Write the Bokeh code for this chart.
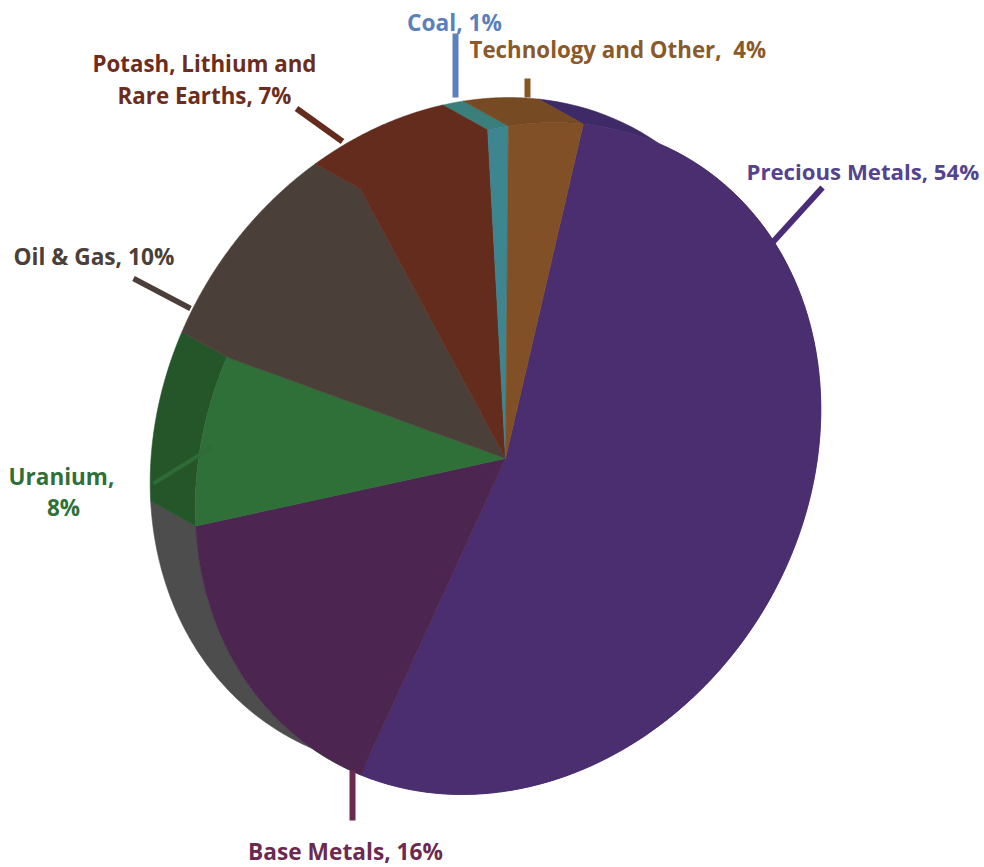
import numpy as np
from bokeh.plotting import figure
from bokeh.embed import file_html
from bokeh.resources import INLINE
from bokeh.core.properties import value

# ---- data (clockwise from the Precious Metals edge) ----
categories = ["Precious Metals", "Base Metals", "Uranium", "Oil & Gas",
              "Potash, Lithium and Rare Earths", "Coal", "Technology and Other"]
share_pct = [54, 16, 8, 10, 7, 1, 4]
# swept angle of every slice as it is actually drawn in the tilted picture
drawn_sweep_deg = [191.5, 53.1, 32.3, 41.7, 25.2, 3.6, 12.6]
face_colors = ["#4b2e70", "#4c2650", "#2f6f38", "#4b4039", "#642c1c", "#3d8690", "#815026"]
side_colors = ["#3d2a66", "#4d4d4d", "#24562a", "#4b4039", "#642c1c", "#3a7f7c", "#764a22"]

label_text = ["Coal, 1%", "Technology and Other,\u00a0 4%", "Potash, Lithium and", "Rare Earths, 7%",
              "Oil & Gas, 10%", "Uranium,", "8%", "Base Metals, 16%", "Precious Metals, 54%"]
label_color = ["#5a80bd", "#8a5a2b", "#6b2d20", "#6b2d20", "#4b4039",
               "#2f6f38", "#2f6f38", "#6b2a4f", "#54438f"]

# ---- layout ----
W, H = 984, 867
CX, CY = 505, 458
OFFX = 2.5
A, B, ROT = 350, 297, np.radians(58)
SHIFT = (-45, -25)
START = 76.9
FONT = "Open Sans"

label_x = [454, 469, 204, 204, 13, 61, 63, 345, 746]
label_y = [22, 49, 63, 95, 256, 476, 507, 851, 171]
label_align = ["center", "left", "center", "center", "left", "center", "center", "center", "left"]
label_size = ["22.7px", "22.3px", "22.3px", "22.3px", "22.7px", "22.5px", "22.5px", "22.7px", "22.2px"]

lead_x = [[455, 455], [527, 527], [296, 342], [133, 190], [153, 211], [352, 352], [772, 822]]
lead_y = [[33, 97], [78, 97], [108, 141], [278, 308], [483, 447], [770, 820], [242, 187]]
lead_c = ["#5a80bd", "#8a5526", "#642c1c", "#4b4039", "#2f6b36", "#6b2a4f", "#4a2d78"]
lead_w = [6, 6, 6, 5.5, 4, 6, 6]


def arc(a0, a1, n=120):
    # ray from the apex to an ellipse whose centre lies OFFX to the right of it
    t = np.radians(np.linspace(a0, a1, n))
    ux, uy = np.cos(t), np.sin(t)
    cr, sr = np.cos(ROT), np.sin(ROT)
    ua = (ux * cr + uy * sr) / A
    ub = (-ux * sr + uy * cr) / B
    oa = (-OFFX * cr) / A
    ob = (OFFX * sr) / B
    qa = ua ** 2 + ub ** 2
    qb = 2 * (ua * oa + ub * ob)
    qc = oa ** 2 + ob ** 2 - 1
    r = (-qb + np.sqrt(qb ** 2 - 4 * qa * qc)) / (2 * qa)
    return CX + r * ux, CY - r * uy


p = figure(width=W, height=H, x_range=(0, W), y_range=(H, 0),
           output_backend="svg", toolbar_location=None, min_border=0)
p.axis.visible = False
p.grid.visible = False
p.outline_line_color = None
p.background_fill_color = "#ffffff"

edges = START - np.cumsum([0] + drawn_sweep_deg)

# side walls first, then the faces on top of them
for i, c in enumerate(side_colors):
    if c == face_colors[i]:
        continue
    x, y = arc(edges[i], edges[i + 1])
    p.patch(np.r_[x, x[::-1] + SHIFT[0]], np.r_[y, y[::-1] + SHIFT[1]],
            fill_color=c, line_color=c, line_width=0.6)

for i, c in enumerate(face_colors):
    x, y = arc(edges[i], edges[i + 1])
    if c == side_colors[i]:
        # same colour on wall and face: one seamless shape
        px = np.r_[CX, x[0], x + SHIFT[0], x[-1]]
        py = np.r_[CY, y[0], y + SHIFT[1], y[-1]]
    else:
        px, py = np.r_[CX, x], np.r_[CY, y]
    p.patch(px, py, fill_color=c, line_color=c, line_width=0.6)

for x, y, c, w in zip(lead_x, lead_y, lead_c, lead_w):
    p.line(x, y, line_color=c, line_width=w)

for i, t in enumerate(label_text):
    p.text([label_x[i]], [label_y[i]], text=[t], text_color=label_color[i],
           text_font=value(FONT), text_font_size=label_size[i], text_font_style="bold",
           text_align=label_align[i], text_baseline="middle")

open("out.html", "w").write(file_html(p, INLINE))
